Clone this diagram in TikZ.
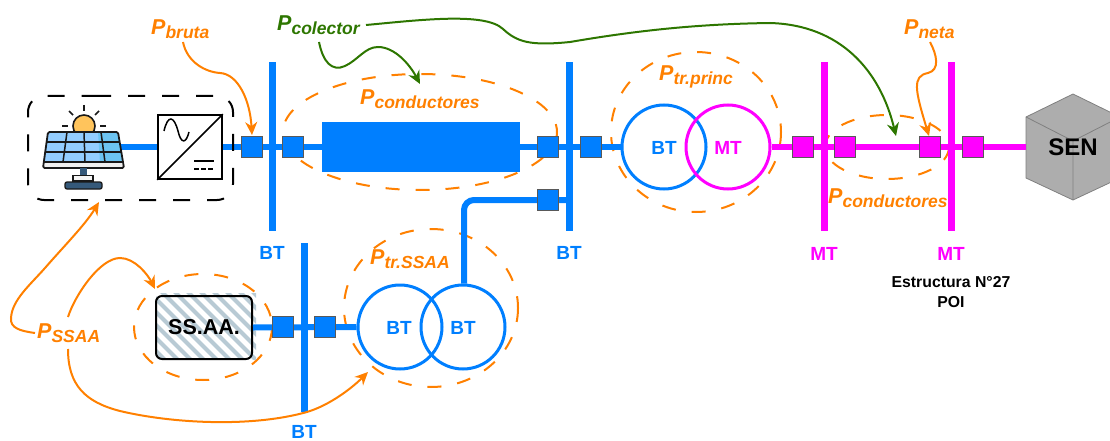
\documentclass[tikz,border=0pt]{standalone}
\usepackage{fontspec}
\setmainfont{Liberation Sans}
\usetikzlibrary{arrows.meta,calc}
\definecolor{bluebus}{HTML}{007FFF}
\definecolor{magbus}{HTML}{FF00FF}
\definecolor{orangep}{HTML}{FF8000}
\definecolor{greenp}{HTML}{2D7600}
\definecolor{panelA}{HTML}{93CDFF}
\definecolor{panelB}{HTML}{6CC4F2}
\definecolor{hatchc}{HTML}{B8CAD4}
\definecolor{sunc}{HTML}{FFC45C}
\definecolor{standc}{HTML}{35597A}
\newcommand{\plab}[1]{{\fontsize{21.5}{21}\selectfont\bfseries\itshape P}{\fontsize{17.5}{16}\selectfont\bfseries\itshape\raisebox{-4pt}{#1}}}
\tikzset{
  x=1pt,y=-1pt,
  bluebar/.style={draw=none,fill=bluebus,minimum width=7pt,inner sep=0pt},
  magbar/.style={draw=none,fill=magbus,minimum width=7pt,inner sep=0pt},
  bsq/.style={draw=black!65,line width=0.7pt,fill=bluebus,minimum size=21pt,inner sep=0pt},
  msq/.style={draw=black!65,line width=0.7pt,fill=magbus,minimum size=21pt,inner sep=0pt},
  bline/.style={bluebus,line width=6pt},
  mline/.style={magbus,line width=6pt},
  lossring/.style={orangep,line width=2pt,dash pattern=on 14pt off 16pt},
  oarrow/.style={orangep,line width=2pt,-{Stealth[length=13pt,width=12pt]}},
  garrow/.style={greenp,line width=2pt,-{Stealth[length=13pt,width=12pt]}},
  blab/.style={text=bluebus,font=\fontsize{19}{19}\selectfont\bfseries,inner sep=0pt},
  mlab/.style={text=magbus,font=\fontsize{19}{19}\selectfont\bfseries,inner sep=0pt},
  olab/.style={text=orangep,inner sep=0pt,anchor=west},
  glab/.style={text=greenp,inner sep=0pt,anchor=west},
  ring/.style={circle,line width=3pt,minimum size=84pt,inner sep=0pt},
}
\begin{document}
\begin{tikzpicture}
\useasboundingbox (0,0) rectangle (1110,441);
% loss rings
\draw[lossring] (420,132) ellipse [x radius=137,y radius=58];
\draw[lossring] (696,132) ellipse [x radius=85,y radius=80];
\draw[lossring] (431,308) ellipse [x radius=87,y radius=79];
\draw[lossring] (203,327) ellipse [x radius=69,y radius=53];
\draw[lossring] (887,147) ellipse [x radius=62,y radius=32];
% buses
\node[bluebar,minimum height=169pt] (bus1) at (272,146.5) {};
\node[bluebar,minimum height=169pt] (bus2) at (569,146.5) {};
\node[bluebar,minimum height=169pt] (bus3) at (304,327.5) {};
\node[magbar,minimum height=169pt] (bus4) at (824,146.5) {};
\node[magbar,minimum height=169pt] (bus5) at (951,146.5) {};
% equipment nodes
\node[draw=black,line width=1.6pt,fill=white,minimum size=64pt,inner sep=0pt] (inv) at (190,147) {};
\coordinate (pv) at (118,147);
\node[fill=bluebus,minimum width=198pt,minimum height=49pt,inner sep=0pt] (cond) at (421,147) {};
\node[ring,draw=bluebus] (t1a) at (664,147) {};
\node[ring,draw=magbus] (t1b) at (728,147) {};
\node[ring,draw=bluebus] (t2a) at (400,327) {};
\node[ring,draw=bluebus] (t2b) at (463,327) {};
% SEN cube
\coordinate (senW) at (1026,147);
\fill[fill=black!32,draw=black!50,line width=0.8pt] (1073,94) -- (1026,117) -- (1026,178) -- (1073,200) -- (1120,178) -- (1120,117) -- cycle;
\draw[black!50,line width=0.8pt] (1026,117) -- (1073,141) -- (1120,117) (1073,141) -- (1073,200);
\node[font=\fontsize{24}{24}\selectfont\bfseries,inner sep=0pt] (sen) at (1073,147) {SEN};
% SS.AA box
\begin{scope}
\clip (156,293) rectangle (256,359);
\foreach \i in {0,...,14} {\draw[line width=4pt,color=hatchc] (90+\i*13,285) -- (90+\i*13+80,365);}
\end{scope}
\node[draw=black,line width=2pt,rounded corners=6pt,minimum width=96pt,minimum height=63pt,inner sep=0pt,font=\fontsize{21.5}{22}\selectfont\bfseries] (ssaa) at (204,327.5) {SS.AA.};
% lines
\draw[bline] (pv) -- (inv.west);
\draw[bline] (inv.east) -- (cond.west);
\draw[bline] (cond.east) -- (t1a.west);
\draw[mline] (t1b.east) -- (senW);
\draw[bline] (ssaa.east) -- (t2a.west);
\coordinate (busTap) at (569,200);
\draw[bline,rounded corners=10pt] (t2b.north) ++(1,0) |- (busTap);
% squares
\node[bsq] (s1) at (252,147) {};
\node[bsq] (s2) at (293,147) {};
\node[bsq] (s3) at (548,147) {};
\node[bsq] (s4) at (591,147) {};
\node[bsq] (s5) at (548,200) {};
\node[bsq] (s6) at (283,327) {};
\node[bsq] (s7) at (325,327) {};
\node[msq] (s8) at (803,147) {};
\node[msq] (s9) at (845,147) {};
\node[msq] (s10) at (930,147) {};
\node[msq] (s11) at (973,147) {};
% PV group
\draw[black,line width=2pt,rounded corners=16pt,dash pattern=on 17pt off 17pt] (78,96) -- (233,96) -- (233,200) -- (28,200) -- (28,96) -- cycle;
% solar panel
\fill[fill=sunc,draw=black!90,line width=1.6pt] (84,126) circle (11);
\foreach \a/\b/\c/\d in {84/105/84/111,69/111/73/115,99/111/95/115,62/126/68/126,106/126/100/126}
  \draw[black!90,line width=1.6pt] (\a,\b) -- (\c,\d);
\fill[panelA] (48,132) -- (118,132) -- (123,163) -- (43,163) -- cycle;
\fill[panelB] (98,132) -- (118,132) -- (123,163) -- (100,163) -- cycle;
\fill[black!6] (43,162) -- (123,162) -- (124,168) -- (43,168) -- cycle;
\draw[black!90,line width=1.8pt,line join=round,rounded corners=1.5pt] (48,132) -- (118,132) -- (124,168) -- (43,168) -- cycle;
\draw[black!90,line width=1.5pt] (44,162) -- (123,162) (47,142) -- (120,142) (45.5,152) -- (121.5,152);
\draw[black!90,line width=1.5pt] (67,132) -- (63,162) (84,132) -- (85,162) (101,132) -- (105,162);
\fill[standc] (80,168) rectangle (87,175);
\fill[fill=black!4,draw=black!90,line width=1.3pt] (73,175.5) rectangle (93,181);
\fill[fill=standc,draw=black!90,line width=1.3pt,rounded corners=2pt] (65,182) rectangle (102,189);
% inverter symbol
\draw[black,line width=1.6pt] (inv.south west) -- (inv.north east);
\draw[black,line width=1.5pt] (164,131) .. controls (168,114) and (174,116) .. (178,131) .. controls (181,144) and (186,144) .. (189,132);
\draw[black,line width=1.5pt] (194,161) -- (214,161);
\draw[black,line width=1.5pt,dash pattern=on 5pt off 2pt] (194,169) -- (214,169);
% bus and winding labels
\node[blab] (lb1) at (272,253) {BT};
\node[blab] (lb2) at (569,253) {BT};
\node[blab] (lb3) at (304,432) {BT};
\node[mlab] (lb4) at (824,254) {MT};
\node[mlab] (lb5) at (951,254) {MT};
\node[blab] (lt1) at (664,148) {BT};
\node[mlab] (lt2) at (728,148) {MT};
\node[blab] (lt3) at (399,328) {BT};
\node[blab] (lt4) at (463,328) {BT};
\node[font=\fontsize{15.8}{19.5}\selectfont\bfseries,align=center,inner sep=0pt] (poi) at (951,292) {Estructura N°27\\POI};
% power labels
\node[olab] (pbruta) at (151,29) {\plab{bruta}};
\node[glab] (pcol) at (277,25) {\plab{colector}};
\node[olab] (pcond1) at (360,99) {\plab{conductores}};
\node[olab] (ptrp) at (659,77) {\plab{tr.princ}};
\node[olab] (pneta) at (904,29) {\plab{neta}};
\node[olab] (pcond2) at (828,198) {\plab{conductores}};
\node[olab] (ptrs) at (370,259) {\plab{tr.SSAA}};
\node[olab] (pss) at (37,333) {\plab{SSAA}};
% arrows
\coordinate (a1) at (252,135);
\coordinate (a2) at (420,84);
\coordinate (a3) at (896,136);
\coordinate (a4) at (929,136);
\coordinate (a5) at (99,202);
\coordinate (a6) at (155,289);
\coordinate (a7) at (368,372);
\draw[oarrow] (183,42) .. controls (187,62) and (205,72) .. (220,73) .. controls (238,74) and (250,100) .. (a1);
\draw[garrow] (319,42) .. controls (323,62) and (332,72) .. (345,66) .. controls (358,60) and (365,47) .. (378,47) .. controls (395,47) and (410,65) .. (a2);
\draw[garrow] (366,25) .. controls (420,20) and (485,12) .. (503,29) .. controls (517,42) and (530,46) .. (570,42) .. controls (640,30) and (700,24) .. (770,23) .. controls (840,25) and (880,70) .. (a3);
\draw[oarrow] (930,42) .. controls (937,55) and (940,70) .. (928,73) .. controls (912,76) and (915,90) .. (a4);
\draw[oarrow] (35,333) .. controls (20,331) and (10,328) .. (11,318) .. controls (12,300) and (30,285) .. (45,268) .. controls (65,245) and (85,225) .. (a5);
\draw[oarrow] (68,317) .. controls (75,295) and (100,258) .. (120,258) .. controls (135,258) and (148,275) .. (a6);
\draw[oarrow] (68,349) .. controls (68,385) and (85,402) .. (120,411) .. controls (170,423) and (250,428) .. (307,412) .. controls (330,405) and (352,388) .. (a7);
\end{tikzpicture}
\end{document}
